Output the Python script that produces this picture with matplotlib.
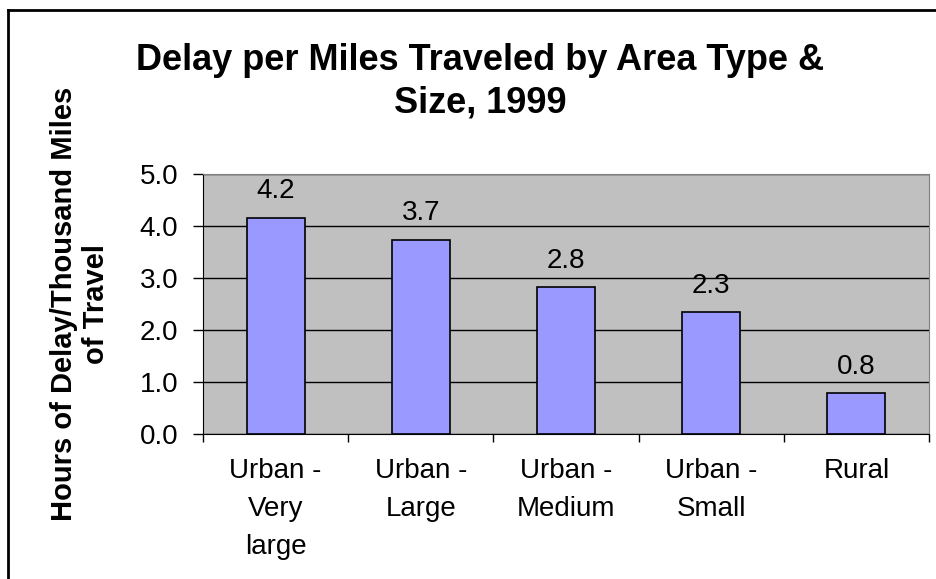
import matplotlib
matplotlib.use("Agg")
import matplotlib.pyplot as plt
from matplotlib.lines import Line2D

# chart data
categories = ["Urban -\nVery\nlarge", "Urban -\nLarge", "Urban -\nMedium",
              "Urban -\nSmall", "Rural"]
delay_hours = [4.16, 3.74, 2.82, 2.34, 0.79]
y_ticks = [0.0, 1.0, 2.0, 3.0, 4.0, 5.0]

plt.rcParams["font.family"] = ["Liberation Sans", "DejaVu Sans"]

fig = plt.figure(figsize=(9.36, 5.79), dpi=100)
ax = fig.add_axes([0.2169, 0.2504, 0.7756, 0.4491])
ax.set_facecolor("#C0C0C0")

xs = list(range(len(categories)))
ax.bar(xs, delay_hours, width=0.4, color="#9999FF", edgecolor="black",
       linewidth=1.2, zorder=3)
for x, v in zip(xs, delay_hours):
    ax.annotate("%.1f" % v, (x, v), xytext=(0, 19), textcoords="offset points",
                ha="center", va="center", fontsize=20)

# y axis
ax.set_ylim(0, 5)
ax.set_yticks(y_ticks)
ax.set_yticklabels(["%.1f" % t for t in y_ticks], fontsize=20)
ax.yaxis.grid(True, color="black", linewidth=1)
ax.set_axisbelow(True)
ax.tick_params(axis="y", direction="out", length=7, width=1, pad=11)

# x axis: ticks on boundaries, labels in the middle
ax.set_xlim(-0.5, len(categories) - 0.5)
ax.set_xticks([i - 0.5 for i in range(len(categories) + 1)])
ax.set_xticklabels([])
ax.set_xticks(xs, minor=True)
ax.set_xticklabels(categories, minor=True, fontsize=20, linespacing=1.6)
ax.tick_params(axis="x", which="major", direction="out", length=6, width=1)
ax.tick_params(axis="x", which="minor", length=0, pad=17)

for side in ["top", "right"]:
    ax.spines[side].set_color("#808080")
for side in ["left", "bottom"]:
    ax.spines[side].set_color("black")

ax.set_ylabel("Hours of Delay/Thousand Miles\nof Travel", fontsize=21,
              fontweight="bold", linespacing=1.2)
ax.yaxis.set_label_coords(-0.128, 0.5)

fig.text(0.513, 0.859, "Delay per Miles Traveled by Area Type &\nSize, 1999",
         ha="center", va="center", fontsize=26, fontweight="bold",
         linespacing=1.25)

# chart border (left and top edges visible)
fig.add_artist(Line2D([0.0085, 0.0085], [0, 0.983], color="black", lw=2,
                      transform=fig.transFigure))
fig.add_artist(Line2D([0.0085, 1], [0.983, 0.983], color="black", lw=2,
                      transform=fig.transFigure))

fig.savefig("out.png", dpi=100)
